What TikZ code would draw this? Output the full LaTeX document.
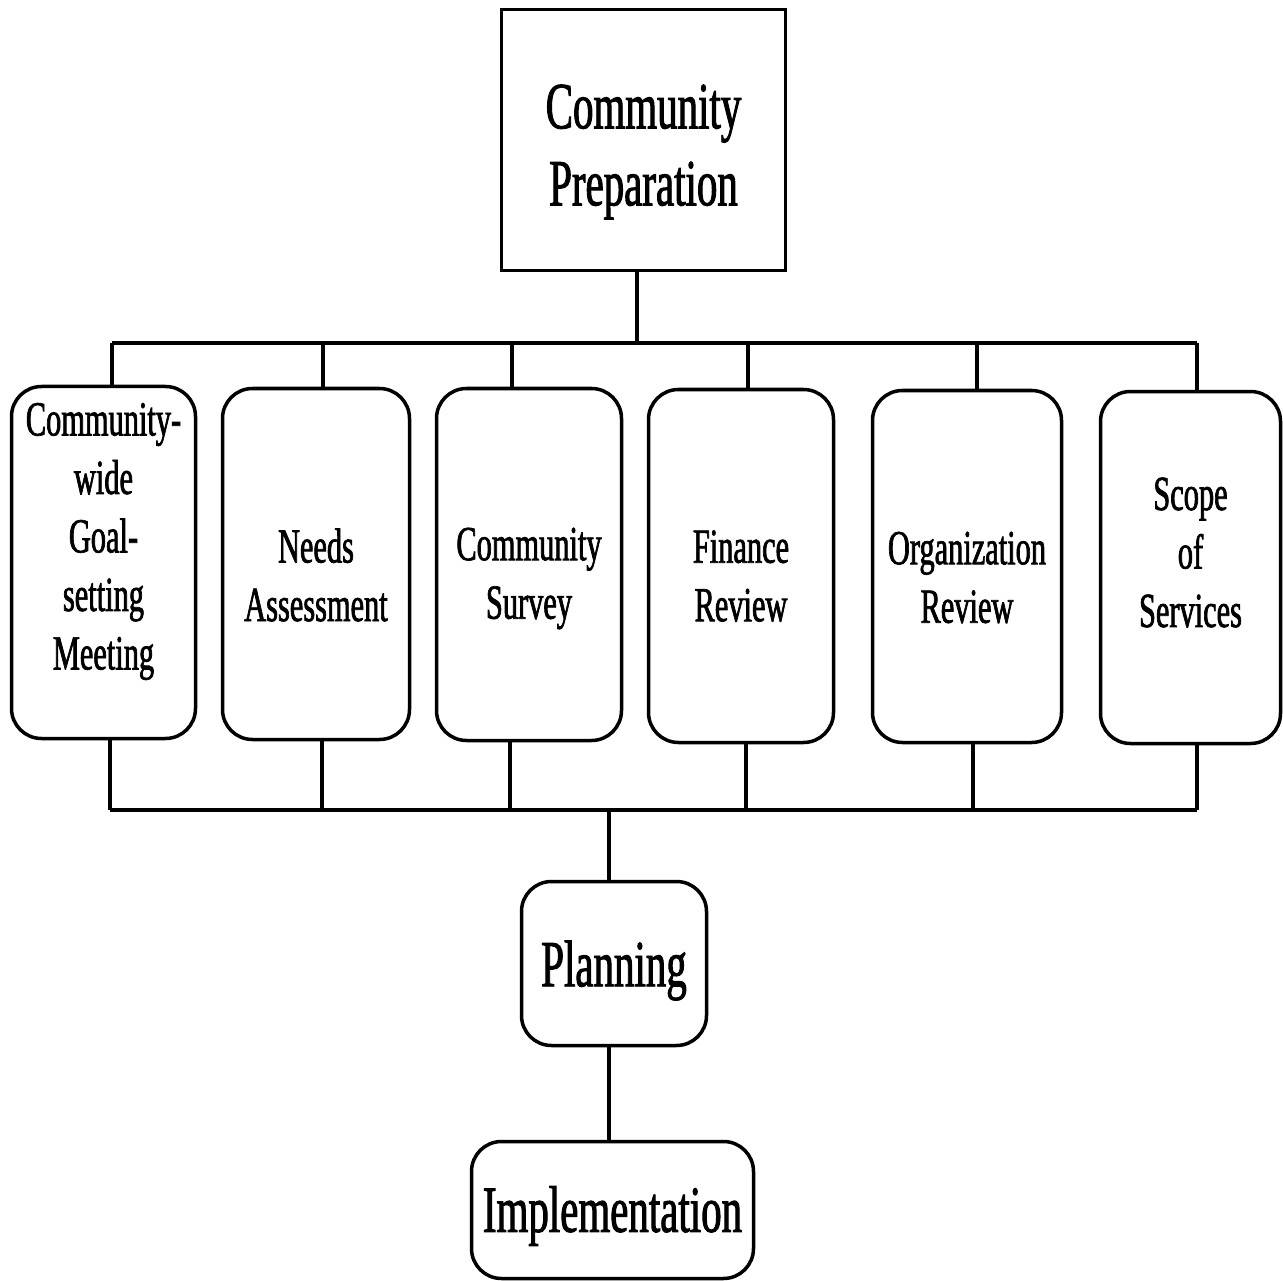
\documentclass[tikz,border=0pt]{standalone}
\usepackage{fontspec}
\setmainfont{Liberation Serif}[FakeStretch=0.62,FakeBold=1.4]
\begin{document}
\begin{tikzpicture}[x=1pt,y=-1pt,
  box/.style={draw,line width=3.5pt,inner sep=0pt,outer sep=0pt},
  sq/.style={box},
  rbox/.style={box,rounded corners=30pt},
  txt/.style={align=center,inner sep=0pt},
  conn/.style={line width=3.5pt},
  big/.style={txt,font=\fontsize{66}{77}\selectfont},
  mid/.style={txt,font=\fontsize{49}{58.5}\selectfont}]
\fill[white] (0,0) rectangle (1283,1281);
\useasboundingbox (0,0) rectangle (1283,1281);
\node[sq,minimum width=284pt,minimum height=261pt] (top) at (643.5,140) {};
\node[rbox,minimum width=184pt,minimum height=352pt] (b1) at (103.5,562.5) {};
\node[rbox,minimum width=187pt,minimum height=351pt] (b2) at (316,564) {};
\node[rbox,minimum width=185pt,minimum height=352pt] (b3) at (529,564.5) {};
\node[rbox,minimum width=185pt,minimum height=353pt] (b4) at (741,566) {};
\node[rbox,minimum width=189pt,minimum height=352pt] (b5) at (967,566.5) {};
\node[rbox,minimum width=180pt,minimum height=352pt] (b6) at (1190.5,567.5) {};
\node[rbox,minimum width=185pt,minimum height=164pt] (plan) at (614,963.5) {};
\node[rbox,minimum width=282pt,minimum height=137pt] (impl) at (612.5,1210) {};
% labels
\node[big,yshift=-12pt] (ttop) at (top) {Community\\Preparation};
\node[mid,yshift=21pt] (t1) at (b1) {Community-\\wide\\Goal-\\setting\\Meeting};
\node[mid,yshift=-11pt] (t2) at (b2) {Needs\\Assessment};
\node[mid,yshift=-14pt] (t3) at (b3) {Community\\Survey};
\node[mid,yshift=-10pt] (t4) at (b4) {Finance\\Review};
\node[mid,yshift=-11pt] (t5) at (b5) {Organization\\Review};
\node[mid,yshift=15pt] (t6) at (b6) {Scope\\of\\Services};
\node[big,yshift=-7pt] (tplan) at (plan) {Planning};
\node[big,yshift=-6pt] (timpl) at (impl) {Implementation};
% top bus
\coordinate (tl) at (112,343);
\coordinate (tr) at (1197,343);
\draw[conn] (top.south -| 637,0) -- (637,343);
\draw[conn] (tl) -- (tr);
\foreach \n/\x in {b1/112,b2/323,b3/512,b4/748,b5/977,b6/1197}
  \draw[conn] (\x,343) -- (\n.north -| \x,0);
% bottom bus
\coordinate (bl) at (110,810);
\coordinate (br) at (1197,810);
\draw[conn] (bl) -- (br);
\foreach \n/\x in {b1/110,b2/322,b3/510,b4/746,b5/973,b6/1197}
  \draw[conn] (\n.south -| \x,0) -- (\x,810);
\draw[conn] (609,810) -- (plan.north -| 609,0);
\draw[conn] (plan.south -| 609,0) -- (impl.north -| 609,0);
\end{tikzpicture}
\end{document}
